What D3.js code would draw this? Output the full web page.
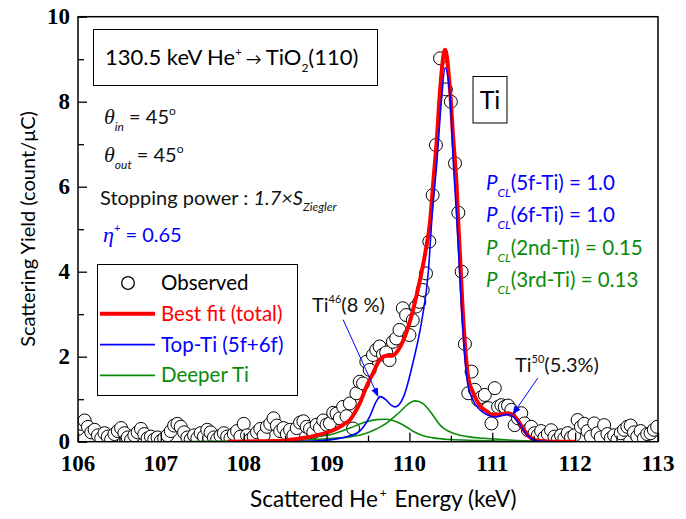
<!DOCTYPE html>
<html>
<head>
<meta charset="utf-8">
<script src="https://cdn.jsdelivr.net/npm/d3@7"></script>
<style>
  body { margin: 0; background: #fff; }
  text { font-family: Lato, "Open Sans", sans-serif; }
</style>
</head>
<body>
<div id="chart"></div>
<script>

var width = 686,
    height = 519;

// observed spectrum [energy keV, yield]
var observed = [
  [106.00,0.30],[106.04,0.42],[106.08,0.50],[106.12,0.35],[106.16,0.22],[106.20,0.28],[106.24,0.15],[106.28,0.08],
  [106.32,0.20],[106.36,0.12],[106.40,0.05],[106.44,0.18],[106.48,0.25],[106.52,0.32],[106.56,0.20],[106.60,0.10],
  [106.64,0.04],[106.68,0.15],[106.72,0.22],[106.76,0.30],[106.80,0.18],[106.84,0.08],[106.88,0.12],[106.92,0.05],
  [106.96,0.10],[107.00,0.02],[107.04,0.08],[107.08,0.15],[107.12,0.25],[107.16,0.38],[107.20,0.42],[107.24,0.35],
  [107.28,0.22],[107.32,0.10],[107.36,0.05],[107.40,0.15],[107.44,0.08],[107.48,0.20],[107.52,0.12],[107.56,0.28],
  [107.60,0.22],[107.64,0.10],[107.68,0.06],[107.72,0.14],[107.76,0.20],[107.80,0.12],[107.84,0.08],[107.88,0.18],
  [107.92,0.25],[107.96,0.12],[108.00,0.42],[108.04,0.15],[108.08,0.05],[108.12,0.12],[108.16,0.22],[108.20,0.30],
  [108.24,0.15],[108.28,0.35],[108.32,0.42],[108.36,0.55],[108.40,0.38],[108.44,0.25],[108.48,0.32],[108.52,0.18],
  [108.56,0.28],[108.60,0.15],[108.64,0.32],[108.68,0.45],[108.72,0.48],[108.76,0.35],[108.80,0.30],[108.84,0.22],
  [108.88,0.40],[108.92,0.32],[108.96,0.50],[109.00,0.40],[109.04,0.43],[109.08,0.68],[109.12,0.66],[109.16,0.55],
  [109.20,0.82],[109.24,0.60],[109.28,0.90],[109.32,0.31],[109.36,1.14],[109.40,1.41],[109.44,1.37],[109.48,1.88],
  [109.52,1.69],[109.56,2.04],[109.60,2.16],[109.64,2.24],[109.68,2.05],[109.72,2.10],[109.76,1.92],[109.80,2.35],
  [109.84,2.43],[109.88,2.63],[109.92,3.14],[109.96,2.98],[110.00,2.51],[110.04,2.86],[110.08,3.18],[110.12,3.29],
  [110.16,3.57],[110.20,3.96],[110.24,4.71],[110.28,5.80],[110.32,6.98],[110.37,9.02],[110.44,8.29],[110.50,8.00],
  [110.55,6.55],[110.59,5.39],[110.63,4.00],[110.67,2.30],[110.71,1.14],[110.75,1.65],[110.79,1.22],[110.83,0.98],
  [110.87,1.05],[110.91,1.10],[110.95,0.79],[110.99,0.43],[111.03,1.26],[111.07,0.82],[111.11,0.86],[111.15,0.82],
  [111.19,0.85],[111.23,0.75],[111.27,0.39],[111.31,0.55],[111.35,0.67],[111.39,0.43],[111.43,0.27],[111.47,0.35],
  [111.51,0.20],[111.55,0.15],[111.59,0.25],[111.63,0.10],[111.67,0.18],[111.71,0.27],[111.75,0.12],[111.79,0.05],
  [111.83,0.15],[111.87,0.08],[111.91,0.20],[111.95,0.10],[111.99,0.15],[112.03,0.51],[112.07,0.35],[112.11,0.42],
  [112.15,0.25],[112.19,0.12],[112.23,0.43],[112.27,0.20],[112.31,0.10],[112.35,0.39],[112.39,0.18],[112.43,0.08],
  [112.47,0.15],[112.51,0.05],[112.55,0.20],[112.59,0.28],[112.63,0.35],[112.67,0.38],[112.71,0.22],[112.75,0.12],
  [112.79,0.25],[112.83,0.08],[112.87,0.18],[112.91,0.20],[112.95,0.28],[112.99,0.35]
];

// best fit (total)
var bestFit = [
  [107.8,0],[108.2,0.01],[108.5,0.03],[108.7,0.08],[108.9,0.16],[109.08,0.27],[109.2,0.40],[109.28,0.51],
  [109.34,0.68],[109.40,0.90],[109.48,1.29],[109.56,1.61],[109.64,1.92],[109.72,2.02],[109.80,2.03],[109.89,2.24],
  [109.95,2.50],[110.01,2.86],[110.11,3.65],[110.19,4.43],[110.25,5.20],[110.29,6.16],[110.33,7.10],[110.37,8.28],
  [110.43,9.22],[110.49,8.28],[110.53,7.10],[110.57,6.00],[110.59,5.14],[110.61,4.40],[110.64,3.20],[110.67,2.30],
  [110.71,1.50],[110.77,1.15],[110.85,0.85],[110.93,0.72],[111.01,0.63],[111.10,0.64],[111.19,0.67],[111.25,0.63],
  [111.31,0.50],[111.37,0.31],[111.43,0.15],[111.49,0.06],[111.56,0.02],[111.7,0],[112.0,0]
];

// top Ti layer (5f + 6f)
var topTi = [
  [108.6,0],[108.9,0.02],[109.1,0.06],[109.25,0.12],[109.40,0.25],[109.52,0.59],[109.60,0.95],[109.65,1.06],
  [109.72,0.98],[109.78,0.86],[109.83,0.82],[109.93,1.06],[110.05,1.92],[110.15,2.86],[110.23,4.04],[110.27,5.22],
  [110.33,6.55],[110.39,8.12],[110.43,8.80],[110.49,8.12],[110.53,6.55],[110.57,5.29],[110.60,4.20],[110.63,3.10],
  [110.66,2.20],[110.70,1.40],[110.75,1.05],[110.85,0.75],[110.95,0.62],[111.03,0.58],[111.12,0.62],[111.19,0.64],
  [111.26,0.58],[111.32,0.44],[111.38,0.26],[111.44,0.12],[111.50,0.04],[111.6,0.01],[111.8,0]
];

// deeper Ti layers
var secondTi = [
  [107.2,0],[107.8,0.01],[108.4,0.04],[108.8,0.10],[109.08,0.18],[109.28,0.32],[109.48,0.47],[109.60,0.52],
  [109.70,0.53],[109.80,0.50],[109.89,0.43],[109.97,0.34],[110.05,0.24],[110.15,0.15],[110.29,0.09],[110.5,0.05],
  [110.8,0.03],[111.2,0.01],[112.0,0]
];
var thirdTi = [
  [107.2,0],[108.0,0.01],[108.6,0.03],[109.0,0.07],[109.3,0.12],[109.48,0.20],[109.60,0.30],[109.72,0.43],
  [109.80,0.56],[109.89,0.71],[109.98,0.88],[110.07,0.96],[110.16,0.90],[110.25,0.71],[110.31,0.55],[110.37,0.39],
  [110.45,0.27],[110.53,0.20],[110.7,0.12],[110.9,0.08],[111.2,0.04],[111.6,0.01],[112.0,0]
];

var xTicks = [106, 107, 108, 109, 110, 111, 112, 113],
    yTicks = [0, 2, 4, 6, 8, 10];

var red = "#ff0000", blue = "#0000ff", green = "#0a8a0a";

var svg = d3.select("#chart").append("svg")
    .attr("width", width)
    .attr("height", height);

var x = d3.scaleLinear().domain([106, 113]).range([78, 658]);
var y = d3.scaleLinear().domain([0, 10]).range([441.7, 16.7]);

svg.append("clipPath").attr("id", "clip")
  .append("rect")
    .attr("x", 78).attr("y", 16.7)
    .attr("width", 580).attr("height", 425);

var plot = svg.append("g").attr("clip-path", "url(#clip)");

// observed points
plot.selectAll(".obs")
    .data(observed)
  .enter().append("circle")
    .attr("class", "obs")
    .attr("cx", function(d) { return x(d[0]); })
    .attr("cy", function(d) { return y(d[1]); })
    .attr("r", 6.5)
    .attr("fill", "#fff")
    .attr("stroke", "#000")
    .attr("stroke-width", 1);

var line = d3.line()
    .x(function(d) { return x(d[0]); })
    .y(function(d) { return y(d[1]); })
    .curve(d3.curveMonotoneX);

plot.append("path").datum(secondTi).attr("d", line)
    .attr("fill", "none").attr("stroke", green).attr("stroke-width", 1.6);
plot.append("path").datum(thirdTi).attr("d", line)
    .attr("fill", "none").attr("stroke", green).attr("stroke-width", 1.6);
plot.append("path").datum(bestFit).attr("d", line)
    .attr("fill", "none").attr("stroke", red).attr("stroke-width", 4);
plot.append("path").datum(topTi).attr("d", line)
    .attr("fill", "none").attr("stroke", blue).attr("stroke-width", 1.6);

// axes (ticks inside)
var xAxis = d3.axisBottom(x).tickValues(d3.range(106, 113.01, 0.5))
    .tickSize(-7).tickFormat("");
var gx = svg.append("g").attr("transform", "translate(0,441.7)").call(xAxis);
gx.selectAll(".tick line").attr("y2", function(d) { return d % 1 === 0 ? -9 : -6; });

var yAxis = d3.axisLeft(y).tickValues(d3.range(0, 10.01, 1))
    .tickSize(-7).tickFormat("");
var gy = svg.append("g").attr("transform", "translate(78,0)").call(yAxis);
gy.selectAll(".tick line").attr("x2", function(d) { return d % 2 === 0 ? 9 : 6; });

svg.selectAll(".domain").remove();
svg.selectAll(".tick line").attr("stroke", "#000").attr("stroke-width", 1.3);

svg.append("rect")
    .attr("x", 78).attr("y", 16.7)
    .attr("width", 580).attr("height", 425)
    .attr("fill", "none").attr("stroke", "#000").attr("stroke-width", 1.5);

svg.selectAll(".xlab")
    .data(xTicks)
  .enter().append("text")
    .attr("x", function(d) { return x(d); })
    .attr("y", 471)
    .attr("text-anchor", "middle")
    .style("font-family", "'Liberation Serif', serif")
    .style("font-weight", "bold")
    .style("font-size", "23px")
    .text(function(d) { return d; });

svg.selectAll(".ylab")
    .data(yTicks)
  .enter().append("text")
    .attr("x", 70)
    .attr("y", function(d) { return y(d) + 7; })
    .attr("text-anchor", "end")
    .style("font-family", "'Liberation Serif', serif")
    .style("font-weight", "bold")
    .style("font-size", "23px")
    .text(function(d) { return d; });

// axis titles
svg.append("text")
    .attr("transform", "translate(35,229) rotate(-90)")
    .attr("text-anchor", "middle")
    .style("font-size", "20px")
    .text("Scattering Yield (count/μC)");

var xt = svg.append("text")
    .attr("x", 250).attr("y", 507)
    .style("font-size", "22.5px");
xt.append("tspan").text("Scattered He");
xt.append("tspan").attr("dy", -10).attr("dx", 2).style("font-size", "12px").text("+");
xt.append("tspan").attr("dy", 10).attr("dx", 2).text(" Energy (keV)");

// condition box
svg.append("rect")
    .attr("x", 93.5).attr("y", 29.5).attr("width", 284).attr("height", 56)
    .attr("fill", "#fff").attr("stroke", "#000").attr("stroke-width", 1);
var t = svg.append("text").attr("x", 105).attr("y", 65).style("font-size", "22px");
t.append("tspan").text("130.5 keV He");
t.append("tspan").attr("dy", -9).style("font-size", "11px").text("+");
t.append("tspan").attr("dy", 9).style("font-size", "16px").text(" \u2192 ");
t.append("tspan").text("TiO");
t.append("tspan").attr("dy", 7).style("font-size", "12px").text("2");
t.append("tspan").attr("dy", -7).text("(110)");

function angleLabel(yPos, sub) {
  var a = svg.append("text").attr("x", 104).attr("y", yPos).style("font-size", "20px").attr("fill", "#111");
  a.append("tspan").style("font-style", "italic").style("font-family", "'Liberation Serif', serif").style("font-size", "22px").text("\u03b8");
  a.append("tspan").attr("dy", 7).style("font-style", "italic").style("font-size", "12px").text(sub);
  a.append("tspan").attr("dy", -7).text(" = 45");
  a.append("tspan").attr("dy", -9).style("font-size", "12px").text("o");
}
angleLabel(124, "in");
angleLabel(162, "out");

var sp = svg.append("text").attr("x", 100).attr("y", 205).style("font-size", "20px").attr("fill", "#111");
sp.append("tspan").text("Stopping power : ");
sp.append("tspan").style("font-style", "italic").text("1.7\u00d7S");
sp.append("tspan").attr("dy", 6).style("font-style", "italic").style("font-size", "12px").text("Ziegler");

var eta = svg.append("text").attr("x", 103).attr("y", 242).style("font-size", "20px").attr("fill", blue);
eta.append("tspan").style("font-style", "italic").style("font-family", "'Liberation Serif', serif").style("font-size", "22px").text("\u03b7");
eta.append("tspan").attr("dy", -10).style("font-size", "11px").text("+");
eta.append("tspan").attr("dy", 10).text(" = 0.65");

// Ti box
svg.append("rect")
    .attr("x", 473).attr("y", 76.5).attr("width", 34).attr("height", 46.5)
    .attr("fill", "#fff").attr("stroke", "#000").attr("stroke-width", 1);
svg.append("text").attr("x", 490).attr("y", 109).attr("text-anchor", "middle")
    .style("font-size", "25px").text("Ti");

// PCL values
var pcl = [
  {label: "(5f-Ti) = 1.0", color: blue},
  {label: "(6f-Ti) = 1.0", color: blue},
  {label: "(2nd-Ti) = 0.15", color: green},
  {label: "(3rd-Ti) = 0.13", color: green}
];
pcl.forEach(function(p, i) {
  var tx = svg.append("text").attr("x", 486).attr("y", 190 + i * 32.3)
      .style("font-size", "20.5px").attr("fill", p.color);
  tx.append("tspan").style("font-style", "italic").text("P");
  tx.append("tspan").attr("dy", 7).style("font-style", "italic").style("font-size", "12px").text("CL");
  tx.append("tspan").attr("dy", -7).text(p.label);
});

// legend
svg.append("rect")
    .attr("x", 97.5).attr("y", 264.5).attr("width", 200).attr("height", 131)
    .attr("fill", "#fff").attr("stroke", "#000").attr("stroke-width", 1);
var legend = [
  {name: "Observed", color: "#000", type: "circle"},
  {name: "Best fit (total)", color: red, w: 4},
  {name: "Top-Ti (5f+6f)", color: blue, w: 1.6},
  {name: "Deeper Ti", color: green, w: 1.6}
];
legend.forEach(function(d, i) {
  var ly = 283 + i * 30.8;
  if (d.type === "circle") {
    svg.append("circle").attr("cx", 128).attr("cy", ly).attr("r", 6.3)
        .attr("fill", "#fff").attr("stroke", "#000").attr("stroke-width", 1.3);
  } else {
    svg.append("line").attr("x1", 100).attr("x2", 155).attr("y1", ly).attr("y2", ly)
        .attr("stroke", d.color).attr("stroke-width", d.w);
  }
  svg.append("text").attr("x", 161).attr("y", ly + 7)
      .style("font-size", "20.5px").attr("fill", d.color).text(d.name);
});

// isotope annotations
svg.append("defs").append("marker")
    .attr("id", "arrow").attr("viewBox", "0 0 10 10")
    .attr("refX", 9).attr("refY", 5)
    .attr("markerWidth", 9).attr("markerHeight", 9)
    .attr("orient", "auto")
  .append("path").attr("d", "M0,1L10,5L0,9z").attr("fill", blue);

svg.append("line")
    .attr("x1", x(109.2)).attr("y1", y(2.87))
    .attr("x2", x(109.62)).attr("y2", y(1.07))
    .attr("stroke", blue).attr("stroke-width", 1).attr("marker-end", "url(#arrow)");
svg.append("line")
    .attr("x1", x(111.55)).attr("y1", y(1.5))
    .attr("x2", x(111.25)).attr("y2", y(0.65))
    .attr("stroke", blue).attr("stroke-width", 1).attr("marker-end", "url(#arrow)");

var i46 = svg.append("text").attr("x", 312).attr("y", 312).style("font-size", "20px").attr("fill", "#111");
i46.append("tspan").text("Ti");
i46.append("tspan").attr("dy", -9).style("font-size", "11px").text("46");
i46.append("tspan").attr("dy", 9).text("(8 %)");

var i50 = svg.append("text").attr("x", 515).attr("y", 372).style("font-size", "20px").attr("fill", "#111");
i50.append("tspan").text("Ti");
i50.append("tspan").attr("dy", -9).style("font-size", "11px").text("50");
i50.append("tspan").attr("dy", 9).text("(5.3%)");

</script>
</body>
</html>
